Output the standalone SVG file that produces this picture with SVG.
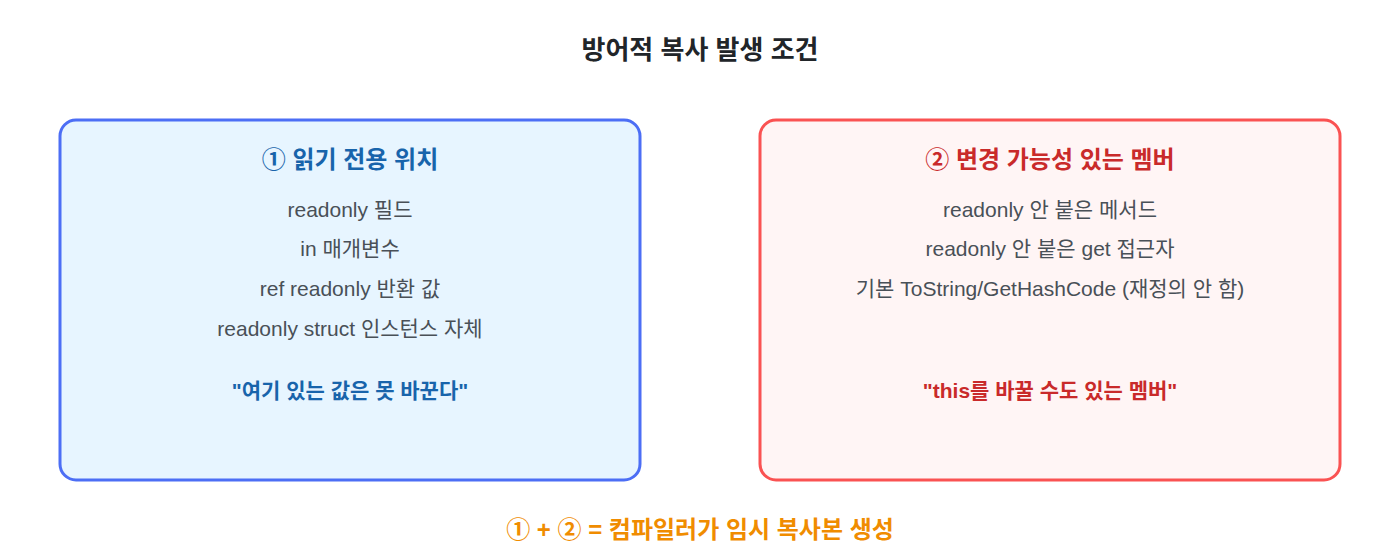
<svg xmlns="http://www.w3.org/2000/svg" width="1400" height="560" viewBox="0 0 1400 560">
<style>
text{font-family:"Liberation Sans","Noto Sans CJK KR",sans-serif;text-anchor:middle}
.title{font-size:26px;font-weight:bold;fill:#212529}
.h{font-size:24px;font-weight:bold}
.b{font-size:21px;fill:#495057}
.q{font-size:21px;font-weight:bold}
.blue{fill:#1864ab}
.red{fill:#c92a2a}
.foot{font-size:24px;font-weight:bold;fill:#f08c00}
</style>
<rect width="1400" height="560" fill="#ffffff"/>
<text class="title" x="700" y="59">방어적 복사 발생 조건</text>
<g id="node-readonly-location">
<rect x="60" y="120" width="580" height="360" rx="16" fill="#e7f5ff" stroke="#4c6ef5" stroke-width="3"/>
<text class="h blue" x="350" y="168">① 읽기 전용 위치</text>
<text class="b" x="350" y="217">readonly 필드</text>
<text class="b" x="350" y="256">in 매개변수</text>
<text class="b" x="350" y="296">ref readonly 반환 값</text>
<text class="b" x="350" y="336">readonly struct 인스턴스 자체</text>
<text class="q blue" x="350" y="398">"여기 있는 값은 못 바꾼다"</text>
</g>
<g id="node-mutable-member">
<rect x="760" y="120" width="580" height="360" rx="16" fill="#fff5f5" stroke="#fa5252" stroke-width="3"/>
<text class="h red" x="1050" y="168">② 변경 가능성 있는 멤버</text>
<text class="b" x="1050" y="217">readonly 안 붙은 메서드</text>
<text class="b" x="1050" y="256">readonly 안 붙은 get 접근자</text>
<text class="b" x="1050" y="296">기본 ToString/GetHashCode (재정의 안 함)</text>
<text class="q red" x="1050" y="398">"this를 바꿀 수도 있는 멤버"</text>
</g>
<g id="connectors"></g>
<text class="foot" x="700" y="538">① + ② = 컴파일러가 임시 복사본 생성</text>
</svg>
